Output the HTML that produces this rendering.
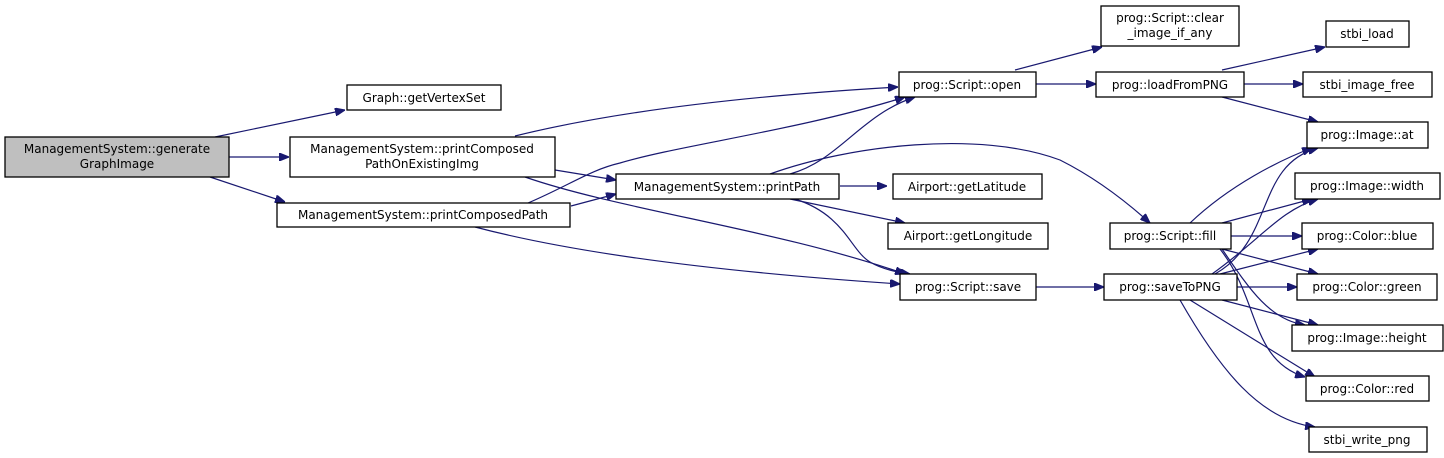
<!DOCTYPE html>
<html><head><meta charset="utf-8"><style>
html,body{margin:0;padding:0;background:#fff;}
svg{display:block;}
text{font-family:"DejaVu Sans","Liberation Sans",sans-serif;font-size:12px;fill:#000;}
rect{stroke:#000;stroke-width:1.3;fill:#fff;}
path{fill:none;stroke:#191970;stroke-width:1.2;}
</style></head><body>
<svg width="1444" height="458" viewBox="0 0 1444 458" xmlns="http://www.w3.org/2000/svg">
<defs><marker id="a" viewBox="0 0 10 8" refX="10" refY="4" markerWidth="10" markerHeight="8" markerUnits="userSpaceOnUse" orient="auto"><path d="M0,0L10,4L0,8z" style="fill:#191970;stroke:#191970"/></marker></defs>
<g marker-end="url(#a)">
<path d="M215,137L345,110"/>
<path d="M229,157L289,157"/>
<path d="M210,177L285,202"/>
<path d="M515,136C620,110 760,95 898,87"/>
<path d="M555,170L616,180"/>
<path d="M525,177C620,210 780,230 905,274"/>
<path d="M528,203C570,185 590,170 620,163C680,145 800,130 905,97"/>
<path d="M571,206L616,194"/>
<path d="M475,227C600,260 780,276 900,284"/>
<path d="M790,174C840,160 860,115 915,97"/>
<path d="M770,174C850,145 980,130 1060,160C1100,180 1130,205 1150,223"/>
<path d="M840,186L887,186"/>
<path d="M790,199L905,223"/>
<path d="M795,199C845,215 850,250 870,262C880,268 895,272 910,274"/>
<path d="M1015,70L1102,47"/>
<path d="M1036,84L1096,84"/>
<path d="M1222,70L1325,47"/>
<path d="M1244,84L1303,84"/>
<path d="M1222,97L1318,122"/>
<path d="M1036,287L1104,287"/>
<path d="M1190,223C1230,185 1280,160 1312,148"/>
<path d="M1222,223L1312,199"/>
<path d="M1231,236L1302,236"/>
<path d="M1222,249L1318,274"/>
<path d="M1222,249C1250,290 1270,320 1305,325"/>
<path d="M1220,249C1260,300 1250,360 1305,377"/>
<path d="M1215,274C1275,240 1255,165 1318,148"/>
<path d="M1212,274C1260,240 1280,210 1318,199"/>
<path d="M1220,274L1318,249"/>
<path d="M1237,287L1297,287"/>
<path d="M1222,300L1318,325"/>
<path d="M1190,300L1315,377"/>
<path d="M1180,300C1220,370 1260,420 1315,427"/>
</g>
<rect x="5" y="137" width="224" height="40" style="fill:#bfbfbf"/>
<text x="117" y="153" text-anchor="middle">ManagementSystem::generate</text>
<text x="117" y="168" text-anchor="middle">GraphImage</text>
<rect x="347" y="85" width="154" height="25"/><text x="424" y="102" text-anchor="middle">Graph::getVertexSet</text>
<rect x="290" y="137" width="265" height="40"/>
<text x="422" y="153" text-anchor="middle">ManagementSystem::printComposed</text>
<text x="422" y="168" text-anchor="middle">PathOnExistingImg</text>
<rect x="277" y="203" width="293" height="24"/><text x="423" y="219" text-anchor="middle">ManagementSystem::printComposedPath</text>
<rect x="616" y="174" width="223" height="25"/><text x="727" y="191" text-anchor="middle">ManagementSystem::printPath</text>
<rect x="893" y="174" width="149" height="25"/><text x="967" y="191" text-anchor="middle">Airport::getLatitude</text>
<rect x="888" y="223" width="160" height="26"/><text x="968" y="240" text-anchor="middle">Airport::getLongitude</text>
<rect x="899" y="72" width="137" height="25"/><text x="967" y="89" text-anchor="middle">prog::Script::open</text>
<rect x="900" y="274" width="136" height="26"/><text x="968" y="291" text-anchor="middle">prog::Script::save</text>
<rect x="1101" y="6" width="138" height="40"/>
<text x="1170" y="22" text-anchor="middle">prog::Script::clear</text>
<text x="1170" y="37" text-anchor="middle">_image_if_any</text>
<rect x="1096" y="72" width="148" height="25"/><text x="1170" y="89" text-anchor="middle">prog::loadFromPNG</text>
<rect x="1110" y="223" width="121" height="26"/><text x="1170" y="240" text-anchor="middle">prog::Script::fill</text>
<rect x="1104" y="274" width="133" height="26"/><text x="1170" y="291" text-anchor="middle">prog::saveToPNG</text>
<rect x="1326" y="21" width="83" height="26"/><text x="1367" y="38" text-anchor="middle">stbi_load</text>
<rect x="1303" y="72" width="129" height="25"/><text x="1367" y="89" text-anchor="middle">stbi_image_free</text>
<rect x="1307" y="122" width="121" height="26"/><text x="1367" y="139" text-anchor="middle">prog::Image::at</text>
<rect x="1295" y="173" width="145" height="26"/><text x="1367" y="190" text-anchor="middle">prog::Image::width</text>
<rect x="1302" y="223" width="131" height="26"/><text x="1367" y="240" text-anchor="middle">prog::Color::blue</text>
<rect x="1297" y="274" width="140" height="26"/><text x="1367" y="291" text-anchor="middle">prog::Color::green</text>
<rect x="1292" y="325" width="151" height="26"/><text x="1367" y="342" text-anchor="middle">prog::Image::height</text>
<rect x="1306" y="376" width="123" height="25"/><text x="1367" y="393" text-anchor="middle">prog::Color::red</text>
<rect x="1309" y="427" width="118" height="25"/><text x="1367" y="444" text-anchor="middle">stbi_write_png</text>
</svg>
</body></html>
